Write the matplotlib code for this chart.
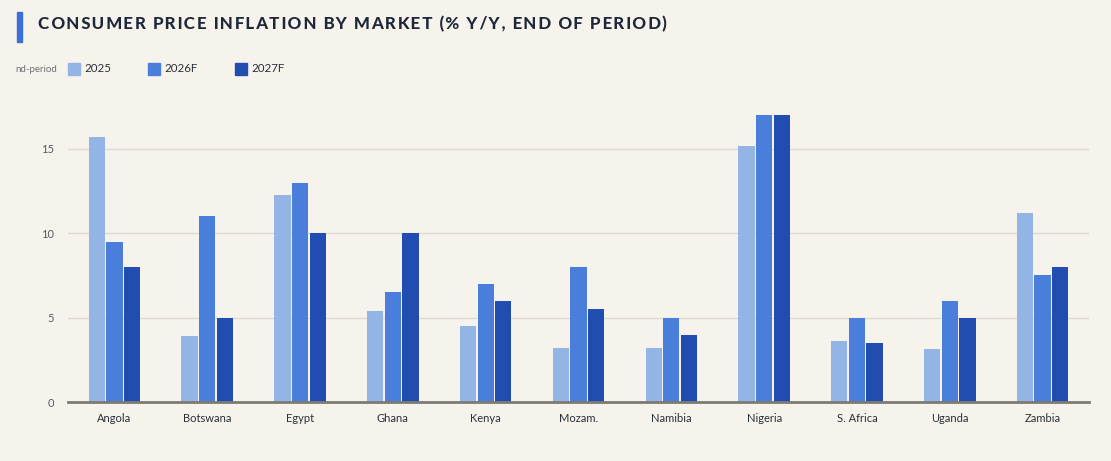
import numpy as np
import matplotlib
matplotlib.use('Agg')
from matplotlib import pyplot as plt
from matplotlib.patches import Rectangle

markets = ['Angola', 'Botswana', 'Egypt', 'Ghana', 'Kenya', 'Mozam.',
           'Namibia', 'Nigeria', 'S. Africa', 'Uganda', 'Zambia']
cpi_2025 = [15.7, 3.9, 12.3, 5.4, 4.5, 3.2, 3.2, 15.2, 3.6, 3.15, 11.2]
cpi_2026f = [9.5, 11.0, 13.0, 6.5, 7.0, 8.0, 5.0, 17.0, 5.0, 6.0, 7.5]
cpi_2027f = [8.0, 5.0, 10.0, 10.0, 6.0, 5.5, 4.0, 17.0, 3.5, 5.0, 8.0]
series_names = ['2025', '2026F', '2027F']
yticks = [0, 5, 10, 15]

bg = '#f6f3ed'
colors = ['#93b4e4', '#497fda', '#214db1']

plt.rcParams['font.family'] = ['Lato', 'DejaVu Sans']

fig = plt.figure(figsize=(11.11, 4.61), dpi=100, facecolor=bg)
ax = fig.add_axes([68 / 1111, 1 - 402 / 461, (1089 - 68) / 1111, (402 - 95) / 461])
ax.set_facecolor(bg)

x = np.arange(len(markets))
w = 0.175
step = 0.19
for i, (vals, c) in enumerate(zip([cpi_2025, cpi_2026f, cpi_2027f], colors)):
    ax.bar(x + (i - 1) * step, vals, width=w, color=c, zorder=3)

ax.set_xlim(-0.5, len(markets) - 0.5)
ax.set_ylim(0, 18.2)
ax.set_yticks(yticks)
ax.set_yticklabels([str(v) for v in yticks], color='#55595f', fontsize=8)
ax.set_xticks(x)
ax.set_xticklabels(markets, color='#2b2f36', fontsize=8)
ax.tick_params(axis='y', length=0, pad=10)
ax.tick_params(axis='x', length=0, pad=8)
ax.grid(axis='y', color='#ddd8d0', linewidth=1, zorder=0)
for s in ['top', 'right', 'left']:
    ax.spines[s].set_visible(False)
ax.spines['bottom'].set_color('#7d7a74')
ax.spines['bottom'].set_linewidth(2)
ax.spines['bottom'].set_zorder(4)

# title with accent bar, letter-spaced (alternate thin / hair spaces)
title = 'CONSUMER PRICE INFLATION BY MARKET (% Y/Y, END OF PERIOD)'
spaced = title[0]
for k, ch in enumerate(title[1:]):
    spaced += ('\u2009' if k % 2 == 0 else '\u200a') + ch
fig.patches.append(Rectangle((17 / 1111, 1 - 42 / 461), 5 / 1111, 30 / 461,
                             transform=fig.transFigure, color='#3a6fd8'))
fig.text(38 / 1111, 1 - 24 / 461, spaced,
         fontsize=12.2, fontweight='black', color='#1e2838', va='center', ha='left')

# legend row
fig.text(15 / 1111, 1 - 69 / 461, 'nd-period', fontsize=7, color='#6b6e73', va='center')
leg_x = [68, 148, 235]
for lx, name, c in zip(leg_x, series_names, colors):
    fig.patches.append(Rectangle((lx / 1111, 1 - 75 / 461), 12 / 1111, 12 / 461,
                                 transform=fig.transFigure, color=c))
    fig.text((lx + 16) / 1111, 1 - 68 / 461, name, fontsize=8.3, color='#2b2f36', va='center')

plt.savefig('out.png', dpi=100, facecolor=bg)
